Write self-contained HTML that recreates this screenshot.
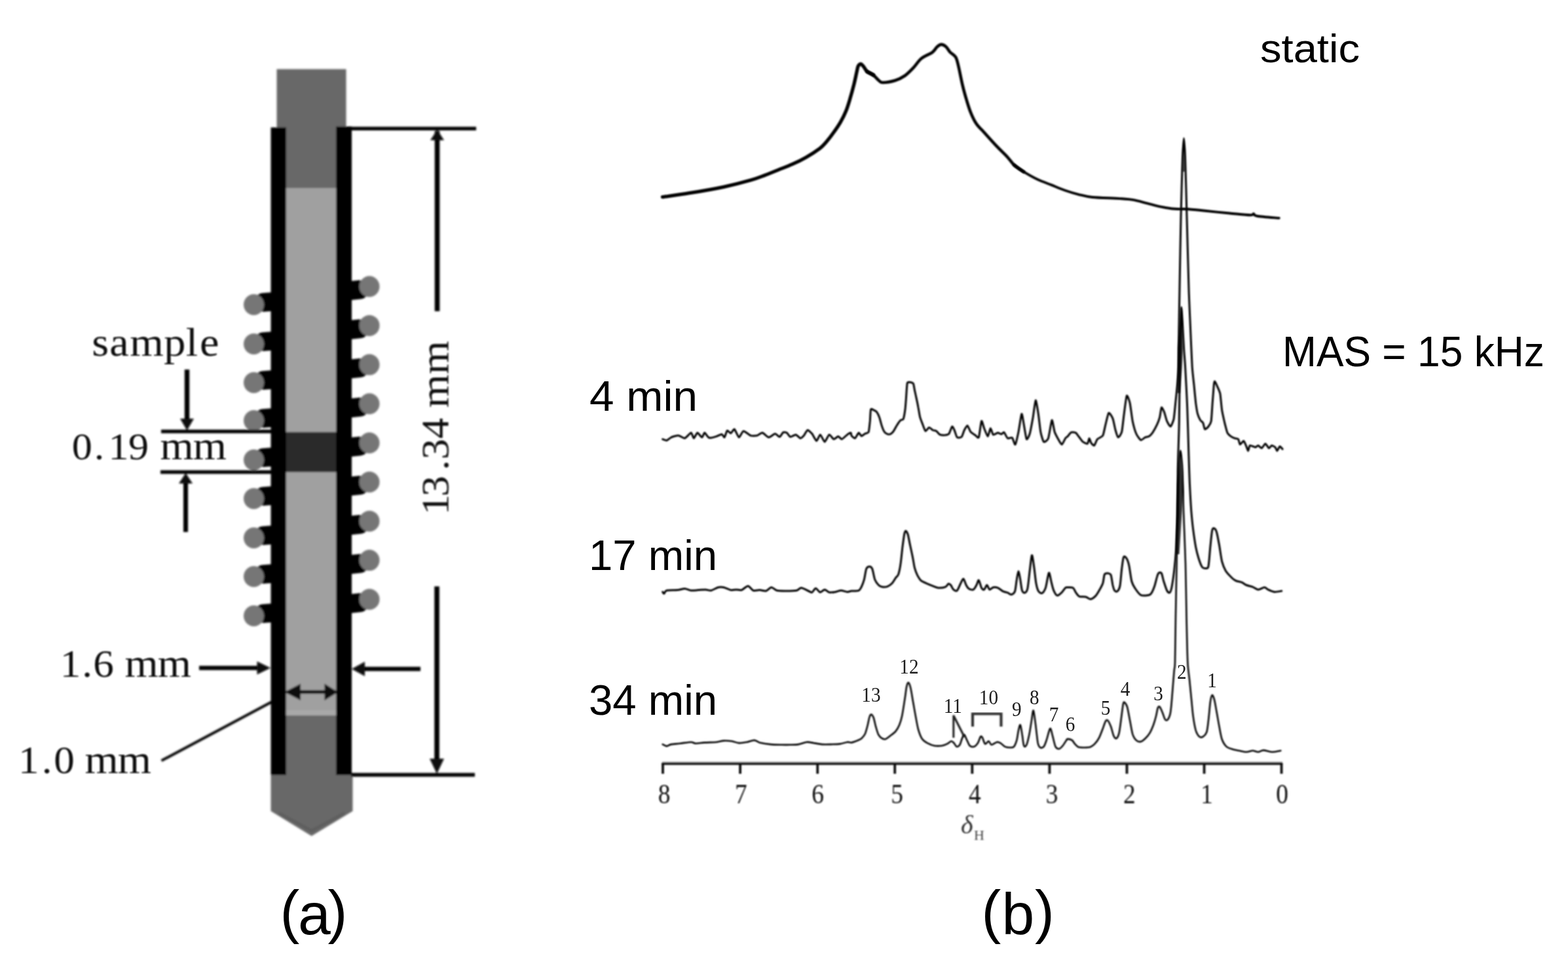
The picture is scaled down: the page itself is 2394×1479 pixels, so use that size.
<!DOCTYPE html>
<html lang="en">
<head>
<meta charset="utf-8">
<title>Figure: micro-coil MAS probe and 1H NMR spectra</title>
<style>
html,body{margin:0;padding:0;background:#fff;}
body{width:2394px;height:1479px;overflow:hidden;}
svg{display:block;}
.sans{font-family:"Liberation Sans",sans-serif;fill:#000;}
.serif{font-family:"Liberation Serif",serif;fill:#000;}
.spec{fill:none;stroke:#000;stroke-linejoin:round;stroke-linecap:round;}
</style>
</head>
<body>
<svg width="2394" height="1479" viewBox="0 0 2394 1479">
<defs>
<filter id="b1" x="-5%" y="-5%" width="110%" height="110%"><feGaussianBlur stdDeviation="1.4"/></filter>
<filter id="b2" x="-5%" y="-5%" width="110%" height="110%"><feGaussianBlur stdDeviation="1.1"/></filter>
<filter id="b3" x="-5%" y="-5%" width="110%" height="110%"><feGaussianBlur stdDeviation="1.0"/></filter>
<filter id="b5" x="-5%" y="-5%" width="110%" height="110%"><feGaussianBlur stdDeviation="0.8"/></filter>
<filter id="b4" x="-5%" y="-5%" width="110%" height="110%"><feGaussianBlur stdDeviation="0.65"/></filter>
</defs>
<rect x="0" y="0" width="2394" height="1479" fill="#fff"/>

<!-- ================= (a) rotor / micro-coil diagram ================= -->
<g id="diagram" filter="url(#b1)">
  <!-- rotor body -->
  <rect x="422.5" y="105.5" width="106" height="182.5" fill="#686868"/>
  <rect x="435" y="287" width="79" height="806" fill="#a0a0a0"/>
  <rect x="435" y="1084" width="79" height="8" fill="#a8a8a8"/>
  <rect x="435" y="659.5" width="79" height="61" fill="#2b2b2b"/>
  <path d="M435,1092 H514 V1183 H538.5 V1238 L475.7,1276 L413.5,1238 V1183 H435 Z" fill="#686868"/>
  <path d="M426,1241 L475.7,1268 L526,1241" fill="none" stroke="#5a5a5a" stroke-width="4" opacity="0.8"/>
  <!-- coil turns -->
  <line x1="402" y1="461.5" x2="422" y2="460.0" stroke="#000" stroke-width="28.5" stroke-linecap="round"/>
<ellipse cx="387.5" cy="465.0" rx="15.5" ry="16" fill="#767676"/>
<line x1="402" y1="521.5" x2="422" y2="520.0" stroke="#000" stroke-width="28.5" stroke-linecap="round"/>
<ellipse cx="387.5" cy="525.0" rx="15.5" ry="16" fill="#767676"/>
<line x1="402" y1="580.5" x2="422" y2="579.0" stroke="#000" stroke-width="28.5" stroke-linecap="round"/>
<ellipse cx="387.5" cy="584.0" rx="15.5" ry="16" fill="#767676"/>
<line x1="402" y1="638.5" x2="422" y2="637.0" stroke="#000" stroke-width="28.5" stroke-linecap="round"/>
<ellipse cx="387.5" cy="642.0" rx="15.5" ry="16" fill="#767676"/>
<line x1="402" y1="698.5" x2="422" y2="697.0" stroke="#000" stroke-width="28.5" stroke-linecap="round"/>
<ellipse cx="387.5" cy="702.0" rx="15.5" ry="16" fill="#767676"/>
<line x1="402" y1="757.5" x2="422" y2="756.0" stroke="#000" stroke-width="28.5" stroke-linecap="round"/>
<ellipse cx="387.5" cy="761.0" rx="15.5" ry="16" fill="#767676"/>
<line x1="402" y1="817.5" x2="422" y2="816.0" stroke="#000" stroke-width="28.5" stroke-linecap="round"/>
<ellipse cx="387.5" cy="821.0" rx="15.5" ry="16" fill="#767676"/>
<line x1="402" y1="876.5" x2="422" y2="875.0" stroke="#000" stroke-width="28.5" stroke-linecap="round"/>
<ellipse cx="387.5" cy="880.0" rx="15.5" ry="16" fill="#767676"/>
<line x1="402" y1="936.5" x2="422" y2="935.0" stroke="#000" stroke-width="28.5" stroke-linecap="round"/>
<ellipse cx="387.5" cy="940.0" rx="15.5" ry="16" fill="#767676"/>
<line x1="549" y1="442.2" x2="530" y2="444.2" stroke="#000" stroke-width="29" stroke-linecap="round"/>
<ellipse cx="564" cy="437.2" rx="15.5" ry="16" fill="#767676"/>
<line x1="549" y1="501.9" x2="530" y2="503.9" stroke="#000" stroke-width="29" stroke-linecap="round"/>
<ellipse cx="564" cy="496.9" rx="15.5" ry="16" fill="#767676"/>
<line x1="549" y1="561.6" x2="530" y2="563.6" stroke="#000" stroke-width="29" stroke-linecap="round"/>
<ellipse cx="564" cy="556.6" rx="15.5" ry="16" fill="#767676"/>
<line x1="549" y1="621.3" x2="530" y2="623.3" stroke="#000" stroke-width="29" stroke-linecap="round"/>
<ellipse cx="564" cy="616.3" rx="15.5" ry="16" fill="#767676"/>
<line x1="549" y1="681.0" x2="530" y2="683.0" stroke="#000" stroke-width="29" stroke-linecap="round"/>
<ellipse cx="564" cy="676.0" rx="15.5" ry="16" fill="#767676"/>
<line x1="549" y1="740.7" x2="530" y2="742.7" stroke="#000" stroke-width="29" stroke-linecap="round"/>
<ellipse cx="564" cy="735.7" rx="15.5" ry="16" fill="#767676"/>
<line x1="549" y1="800.4" x2="530" y2="802.4" stroke="#000" stroke-width="29" stroke-linecap="round"/>
<ellipse cx="564" cy="795.4" rx="15.5" ry="16" fill="#767676"/>
<line x1="549" y1="860.1" x2="530" y2="862.1" stroke="#000" stroke-width="29" stroke-linecap="round"/>
<ellipse cx="564" cy="855.1" rx="15.5" ry="16" fill="#767676"/>
<line x1="549" y1="919.8" x2="530" y2="921.8" stroke="#000" stroke-width="29" stroke-linecap="round"/>
<ellipse cx="564" cy="914.8" rx="15.5" ry="16" fill="#767676"/>
  <!-- sleeve walls -->
  <rect x="413.5" y="194.5" width="23.5" height="988.5" fill="#000"/>
  <rect x="513" y="193" width="24" height="990" fill="#000"/>
  <!-- dimension lines -->
  <g stroke="#060606" stroke-width="5.6" fill="none">
    <line x1="536" y1="196.3" x2="727" y2="196.3"/>
    <line x1="536" y1="1182.6" x2="725" y2="1182.6"/>
    <line x1="667.5" y1="200" x2="667.5" y2="475" stroke-width="7.6"/>
    <line x1="667" y1="895" x2="667" y2="1170" stroke-width="7.6"/>
    <line x1="246" y1="658.5" x2="415" y2="658.5"/>
    <line x1="245" y1="720.5" x2="415" y2="720.5"/>
    <line x1="285.5" y1="564" x2="285.5" y2="645" stroke-width="7.4"/>
    <line x1="283.5" y1="735" x2="283.5" y2="812" stroke-width="7"/>
    <line x1="304" y1="1019.5" x2="398" y2="1019.5" stroke-width="6.4"/>
    <line x1="552" y1="1021" x2="642" y2="1021" stroke-width="6.4"/>
    <line x1="445" y1="1056.3" x2="506" y2="1056.3" stroke-width="5.5"/>
    <line x1="246.5" y1="1161" x2="414.5" y2="1071.5" stroke-width="4"/>
  </g>
  <g fill="#0a0a0a">
    <path d="M667.5,198 L678,214 H657 Z"/>
    <path d="M667,1181 L678,1158 H656 Z"/>
    <path d="M285.5,657 L296,639 H275 Z"/>
    <path d="M283.5,722 L294,738 H273 Z"/>
    <path d="M413,1019.5 L392.5,1009.5 V1029.5 Z"/>
    <path d="M537,1021 L557,1010 V1032 Z"/>
    <path d="M434.5,1056.3 L459,1043.5 V1069 Z"/>
    <path d="M516,1056.3 L495.5,1043.5 V1069 Z"/>
  </g>
</g>

<g class="serif" filter="url(#b5)" style="fill:#0c0c0c" text-anchor="middle">
    <text transform="scale(1.07,1)" y="542.6"><tspan font-size="62" x="143.1 170.0 209.5 249.4 273.9 298.7">sample</tspan></text>
    <text transform="scale(1.07,1)" y="701.5"><tspan font-size="58" x="117.1 141.5 169.2 199.6">0.19</tspan> <tspan font-size="61.5" x="252.5 299.5">mm</tspan></text>
    <text transform="scale(1.07,1)" y="1032.6"><tspan font-size="59" x="100.6 124.4 149.8">1.6</tspan> <tspan font-size="61.5" x="202.0 248.9">mm</tspan></text>
    <text transform="scale(1.07,1)" y="1180"><tspan font-size="59" x="41.0 66.9 93.7">1.0</tspan> <tspan font-size="61.5" x="144.9 191.8">mm</tspan></text>
    <text transform="translate(684.5,0) rotate(-90) scale(1.07,1)" y="0"><tspan font-size="59" x="-719.9 -693.4 -663.5 -640.7 -609.0">13.34</tspan> <tspan font-size="61.5" x="-557.8 -510.0">mm</tspan></text>
</g>

<!-- ================= (b) spectra ================= -->
<g id="spectra">
  <path class="spec" filter="url(#b2)" stroke-width="5.3" d="M1011.5,300.6C1018.1,299.6 1037.5,297.2 1052.4,294.7C1067.3,292.3 1089.7,288.5 1104.8,285.3C1119.9,282.1 1136.7,277.7 1146.8,274.8C1156.8,271.9 1161.0,270.0 1167.7,267.5C1174.4,264.9 1182.0,261.8 1188.7,259.1C1195.4,256.4 1202.9,253.7 1209.6,250.7C1216.4,247.7 1223.9,244.1 1230.6,240.2C1237.3,236.4 1246.5,230.4 1251.6,226.6C1256.6,222.7 1258.7,220.0 1262.1,216.1C1265.4,212.2 1269.2,207.2 1272.5,202.5C1275.9,197.8 1280.0,191.9 1283.0,186.8C1286.0,181.6 1289.1,175.7 1291.4,170.0C1293.8,164.3 1295.7,157.8 1297.7,151.1C1299.7,144.4 1302.3,134.8 1304.0,128.1C1305.7,121.3 1307.2,113.5 1308.2,109.2C1309.2,104.8 1309.3,102.6 1310.3,100.8C1311.3,99.0 1313.1,97.5 1314.5,97.7C1315.8,97.8 1317.1,100.0 1318.7,101.8C1320.2,103.7 1321.6,107.2 1323.9,109.2C1326.2,111.2 1331.8,113.6 1333.3,114.4"/>
  <path class="spec" filter="url(#b2)" stroke-width="4.6" d="M1323.9,109.2C1325.4,110.0 1330.5,112.2 1333.3,114.4C1336.2,116.6 1339.4,121.0 1341.7,122.8C1344.1,124.7 1344.0,126.0 1348.0,126.0C1352.0,126.0 1361.5,124.5 1366.9,122.8C1372.2,121.1 1377.2,118.5 1381.6,115.5C1385.9,112.5 1390.1,108.1 1394.1,103.9C1398.2,99.7 1402.0,93.1 1406.7,89.3C1411.4,85.4 1419.6,82.7 1423.5,79.8C1427.3,77.0 1428.6,73.4 1430.8,71.4C1433.0,69.5 1434.9,67.9 1437.1,67.9C1439.3,67.9 1442.3,69.5 1444.4,71.4C1446.6,73.4 1448.4,77.3 1450.7,79.8C1453.1,82.3 1457.1,83.8 1459.1,87.2C1461.1,90.5 1461.6,93.9 1463.3,100.8C1465.0,107.7 1467.6,121.8 1469.6,130.1C1471.6,138.5 1473.9,146.5 1475.9,153.2C1477.9,159.9 1479.8,166.4 1482.2,172.1C1484.5,177.8 1487.7,184.5 1490.6,188.8C1493.4,193.2 1495.1,194.0 1500.0,199.3C1504.9,204.7 1514.9,216.0 1521.0,222.4C1527.0,228.8 1533.4,234.5 1537.7,239.2C1542.1,243.9 1544.2,248.1 1548.2,251.7C1552.2,255.4 1560.5,260.5 1562.9,262.2"/>
  <path class="spec" filter="url(#b2)" stroke-width="3.9" d="M1548.2,251.7C1550.6,253.4 1557.2,258.7 1562.9,262.2C1568.6,265.7 1577.1,270.6 1583.9,273.8C1590.6,276.9 1598.1,279.5 1604.8,282.1C1611.5,284.8 1619.1,288.2 1625.8,290.5C1632.5,292.9 1640.0,295.1 1646.8,296.8C1653.5,298.5 1657.7,300.0 1667.7,301.0C1677.8,302.0 1699.6,302.4 1709.6,303.1C1719.7,303.8 1723.9,304.0 1730.6,305.2C1737.3,306.4 1744.9,308.8 1751.6,310.4C1758.3,312.1 1765.8,314.3 1772.5,315.7C1779.2,317.0 1786.8,318.3 1793.5,318.8C1800.2,319.4 1807.8,318.8 1814.5,319.2C1821.2,319.6 1825.4,320.3 1835.4,321.3C1845.5,322.3 1865.6,324.4 1877.4,325.5C1889.1,326.6 1902.9,328.2 1908.8,328.3C1914.7,328.4 1912.4,325.9 1914.0,326.2C1915.7,326.4 1913.1,328.7 1919.3,329.7C1925.5,330.8 1947.5,332.4 1952.8,332.9"/>
  <path class="spec" filter="url(#b3)" stroke-width="3.0" d="M1011.7,670.3C1012.3,670.5 1016.6,672.6 1017.9,672.3C1019.2,672.1 1023.0,668.3 1024.8,667.5C1026.6,666.8 1033.8,664.6 1035.8,664.8C1037.9,664.9 1043.6,669.3 1045.5,668.9C1047.4,668.5 1053.8,660.6 1055.1,660.6C1056.5,660.6 1058.3,668.9 1059.3,668.9C1060.2,668.9 1063.5,660.8 1064.8,660.6C1066.0,660.5 1070.6,667.5 1071.7,667.5C1072.8,667.5 1074.7,660.6 1075.8,660.6C1076.9,660.7 1080.9,667.7 1082.7,668.2C1084.5,668.8 1091.8,666.7 1093.7,666.1C1095.7,665.6 1100.8,662.6 1102.0,662.7C1103.2,662.8 1105.3,668.1 1106.1,667.5C1107.0,667.0 1109.3,657.8 1110.3,657.2C1111.2,656.6 1114.7,661.5 1115.8,661.3C1116.9,661.1 1120.1,654.5 1121.3,655.1C1122.5,655.7 1126.8,667.2 1128.2,667.5C1129.6,667.8 1133.3,658.1 1135.1,657.9C1136.9,657.6 1144.0,664.1 1146.1,664.8C1148.2,665.5 1154.0,665.2 1155.8,664.8C1157.6,664.3 1162.2,660.4 1164.0,660.6C1165.8,660.9 1171.8,667.4 1173.7,667.5C1175.6,667.7 1181.7,662.1 1183.3,662.0C1185.0,661.9 1189.0,667.0 1190.2,666.8C1191.5,666.6 1194.6,660.6 1195.7,659.9C1196.8,659.3 1200.2,659.9 1201.3,660.6C1202.4,661.3 1205.4,666.6 1206.8,666.8C1208.1,667.1 1213.5,663.2 1215.0,663.4C1216.6,663.6 1220.7,668.8 1221.9,668.9C1223.2,669.0 1226.3,666.0 1227.4,664.8C1228.5,663.5 1231.7,656.8 1233.0,656.5C1234.2,656.2 1238.5,660.4 1239.8,662.0C1241.2,663.7 1245.5,672.9 1246.7,673.0C1248.0,673.2 1251.0,663.2 1252.3,663.4C1253.5,663.5 1257.8,674.4 1259.1,674.4C1260.5,674.4 1264.7,663.8 1266.0,663.4C1267.4,663.0 1271.6,670.0 1272.9,670.3C1274.3,670.6 1278.6,666.1 1279.8,666.1C1281.1,666.1 1284.0,670.6 1285.3,670.3C1286.7,670.0 1292.2,664.3 1293.6,663.4C1295.0,662.4 1298.5,660.5 1299.1,660.6C1299.8,660.8 1299.4,663.9 1300.0,664.8C1300.6,665.6 1304.4,669.3 1305.5,668.9C1306.6,668.5 1310.1,661.0 1311.0,660.6C1312.0,660.3 1314.2,665.3 1315.2,665.5C1316.1,665.6 1319.6,662.6 1320.7,662.0C1321.8,661.4 1325.4,661.2 1326.2,659.2C1326.9,657.3 1327.9,646.2 1328.3,642.7C1328.6,639.3 1329.0,626.4 1329.6,624.8C1330.3,623.1 1333.6,625.8 1334.5,626.2C1335.4,626.6 1337.8,627.8 1338.6,628.9C1339.4,630.0 1342.0,635.1 1342.7,637.2C1343.5,639.3 1345.4,647.4 1346.2,649.6C1346.9,651.8 1349.4,657.9 1350.3,659.2C1351.2,660.6 1354.2,662.3 1355.1,662.7C1356.0,663.0 1358.4,663.0 1359.3,662.7C1360.1,662.3 1362.6,660.3 1363.4,659.2C1364.2,658.2 1366.7,653.7 1367.5,652.4C1368.4,651.0 1370.9,646.6 1371.7,645.5C1372.4,644.4 1374.4,641.9 1375.1,641.3C1375.9,640.7 1378.6,640.9 1379.3,639.3C1379.9,637.6 1381.6,627.9 1382.0,624.8C1382.4,621.7 1383.1,612.2 1383.4,608.2C1383.7,604.2 1384.6,587.3 1385.2,584.8C1385.8,582.3 1388.7,583.4 1389.6,583.4C1390.5,583.5 1393.7,584.3 1394.4,585.5C1395.1,586.7 1396.0,593.6 1396.5,595.8C1397.0,598.1 1398.7,605.6 1399.2,608.2C1399.8,610.9 1401.5,619.1 1402.0,622.0C1402.6,624.9 1404.1,634.6 1404.8,637.2C1405.5,639.8 1408.1,646.2 1408.9,648.2C1409.7,650.3 1412.1,657.5 1413.0,657.9C1414.0,658.3 1417.4,652.5 1418.5,652.4C1419.6,652.2 1423.0,655.9 1424.1,656.5C1425.2,657.0 1428.5,657.2 1429.6,657.9C1430.7,658.6 1433.7,662.8 1435.1,663.4C1436.5,664.0 1442.0,664.2 1443.4,664.1C1444.7,663.9 1447.8,663.3 1448.9,662.0C1449.9,660.7 1452.9,651.5 1453.7,651.0C1454.5,650.4 1456.4,654.8 1457.1,656.5C1457.9,658.1 1460.2,666.5 1461.3,667.5C1462.4,668.6 1467.1,667.9 1468.2,666.8C1469.3,665.7 1471.4,658.2 1472.3,656.5C1473.2,654.8 1476.2,649.3 1477.1,649.6C1478.1,649.9 1480.8,657.8 1482.0,659.2C1483.1,660.7 1487.6,663.2 1488.8,664.1C1490.1,664.9 1493.4,669.7 1494.4,667.5C1495.3,665.4 1497.7,644.1 1498.5,642.7C1499.3,641.3 1501.7,651.4 1502.6,653.7C1503.6,656.1 1507.2,666.1 1508.1,666.1C1509.1,666.1 1511.5,654.0 1512.3,653.7C1513.1,653.5 1515.3,662.7 1516.4,663.4C1517.5,664.1 1522.1,660.7 1523.3,660.6C1524.5,660.6 1527.9,662.8 1528.8,662.7C1529.8,662.6 1532.0,659.3 1533.0,659.9C1533.9,660.6 1537.2,668.1 1538.5,668.9C1539.7,669.7 1544.2,667.2 1545.4,668.2C1546.5,669.2 1549.2,679.4 1550.2,678.5C1551.2,677.7 1554.0,663.9 1555.0,659.2C1556.0,654.6 1559.0,632.8 1559.8,631.7C1560.7,630.6 1562.5,644.4 1563.3,648.2C1564.0,652.1 1566.5,668.9 1567.4,670.3C1568.3,671.7 1571.3,665.3 1572.2,662.0C1573.2,658.7 1576.2,642.3 1577.1,637.2C1578.0,632.1 1580.4,611.6 1581.2,611.0C1582.0,610.5 1584.6,626.9 1585.3,631.7C1586.1,636.5 1588.0,655.0 1588.8,659.2C1589.6,663.5 1592.4,673.4 1593.6,674.4C1594.8,675.4 1599.3,672.2 1600.5,668.9C1601.7,665.6 1605.1,642.3 1606.0,641.3C1607.0,640.4 1609.2,656.4 1610.2,659.2C1611.1,662.1 1614.6,668.3 1615.7,670.3C1616.8,672.2 1620.1,678.7 1621.2,678.5C1622.3,678.4 1625.8,670.1 1626.7,668.9C1627.6,667.7 1629.1,667.0 1630.0,666.1C1630.9,665.2 1634.3,660.5 1635.5,659.9C1636.8,659.4 1641.2,659.9 1642.4,660.6C1643.6,661.4 1646.8,666.1 1647.9,667.5C1649.0,668.9 1652.2,673.4 1653.4,674.4C1654.7,675.4 1659.4,677.7 1660.3,677.2C1661.3,676.6 1662.5,669.0 1663.1,668.9C1663.6,668.8 1665.1,674.7 1665.8,675.8C1666.6,676.9 1669.7,680.5 1670.7,679.9C1671.6,679.4 1674.2,671.8 1675.5,670.3C1676.8,668.8 1682.5,667.0 1683.8,664.8C1685.0,662.6 1687.0,651.7 1687.9,648.2C1688.8,644.8 1691.6,631.3 1692.7,630.3C1693.8,629.3 1697.9,636.0 1698.9,638.6C1700.0,641.2 1702.2,653.6 1703.1,656.5C1703.9,659.4 1706.2,667.2 1707.2,667.5C1708.2,667.8 1711.8,662.8 1712.7,659.2C1713.6,655.7 1715.4,637.2 1716.2,631.7C1716.9,626.2 1719.4,605.8 1720.3,604.1C1721.2,602.5 1724.2,611.3 1725.1,615.1C1726.0,619.0 1728.3,638.0 1729.2,642.7C1730.2,647.4 1733.5,659.1 1734.8,662.0C1736.0,664.9 1740.3,671.1 1741.7,671.7C1743.0,672.2 1747.3,668.1 1748.5,667.5C1749.8,667.0 1753.0,666.8 1754.1,666.1C1755.2,665.5 1758.3,662.4 1759.6,660.6C1760.8,658.8 1765.4,650.6 1766.5,648.2C1767.6,645.9 1769.9,639.8 1770.6,637.2C1771.3,634.6 1772.7,622.9 1773.4,622.0C1774.0,621.2 1776.7,626.9 1777.5,628.9C1778.3,631.0 1780.7,640.5 1781.6,642.7C1782.6,644.9 1786.1,651.3 1787.1,651.0C1788.2,650.7 1791.2,643.5 1792.0,639.9C1792.7,636.4 1794.2,620.4 1794.7,615.1C1795.3,609.9 1797.0,593.1 1797.5,587.6C1798.0,582.1 1799.3,568.7 1799.5,560.0C1799.8,551.3 1799.9,513.0 1800.0,501.0C1800.1,489.0 1800.7,457.1 1801.0,440.0C1801.3,422.9 1802.5,350.0 1803.0,330.0C1803.5,310.0 1805.0,251.9 1805.5,240.0C1806.0,228.1 1807.1,211.0 1807.5,211.0C1807.9,211.0 1809.0,228.1 1809.5,240.0C1810.0,251.9 1811.5,310.0 1812.0,330.0C1812.5,350.0 1814.5,422.9 1815.0,440.0C1815.5,457.1 1817.0,489.0 1817.5,501.0C1818.0,513.0 1819.7,551.3 1820.2,560.0C1820.8,568.7 1822.4,582.1 1823.0,587.6C1823.5,593.1 1825.2,610.7 1825.7,615.1C1826.3,619.5 1827.8,629.1 1828.5,631.7C1829.2,634.3 1831.8,639.9 1832.6,641.3C1833.5,642.7 1836.1,644.1 1836.8,645.5C1837.5,646.8 1838.7,654.6 1839.5,655.1C1840.4,655.7 1844.1,652.2 1845.0,651.0C1846.0,649.7 1848.6,646.3 1849.2,642.7C1849.8,639.1 1850.8,620.7 1851.2,615.1C1851.7,609.6 1853.0,590.9 1853.3,587.6C1853.7,584.3 1854.1,581.8 1854.7,582.1C1855.2,582.3 1858.0,588.4 1858.8,590.3C1859.6,592.3 1862.3,597.8 1863.0,601.4C1863.6,604.9 1865.0,621.8 1865.7,626.2C1866.4,630.6 1869.0,642.0 1869.8,645.5C1870.7,648.9 1873.0,658.6 1874.0,660.6C1874.9,662.7 1878.4,665.3 1879.5,666.1C1880.6,667.0 1883.9,668.5 1885.0,668.9C1886.1,669.3 1889.7,669.3 1890.5,670.3C1891.4,671.2 1892.5,678.3 1893.3,678.5C1894.1,678.8 1897.8,672.8 1898.8,673.0C1899.8,673.3 1902.2,679.8 1902.9,681.3C1903.6,682.8 1905.1,688.3 1905.7,688.2C1906.2,688.1 1907.3,680.5 1908.4,679.9C1909.5,679.4 1915.5,682.7 1916.7,682.7C1918.0,682.7 1919.9,679.8 1920.9,679.9C1921.8,680.1 1925.3,684.3 1926.4,684.1C1927.5,683.8 1930.8,677.2 1931.9,677.2C1933.0,677.2 1936.4,683.8 1937.4,684.1C1938.4,684.3 1940.6,680.1 1941.5,679.9C1942.5,679.8 1946.2,681.9 1947.0,682.7C1947.9,683.5 1949.1,688.3 1949.8,688.2C1950.5,688.1 1953.1,681.6 1953.9,681.3C1954.8,681.0 1957.7,685.0 1958.1,685.4"/>
  <path class="spec" filter="url(#b3)" stroke-width="3.0" d="M1011.7,903.4C1012.0,903.8 1012.9,906.4 1013.8,906.1C1014.7,905.8 1015.0,902.1 1017.9,901.3C1020.8,900.5 1030.6,901.0 1034.5,900.6C1038.3,900.2 1042.6,898.4 1045.5,898.5C1048.4,898.6 1052.2,901.0 1055.1,901.3C1058.0,901.6 1063.1,900.8 1066.2,900.6C1069.3,900.4 1074.5,899.8 1077.2,899.9C1079.9,900.0 1082.8,901.8 1085.5,901.3C1088.2,900.8 1093.8,897.2 1096.5,896.5C1099.2,895.8 1102.1,895.9 1104.8,896.5C1107.5,897.1 1113.1,900.1 1115.8,900.6C1118.5,901.1 1121.7,899.9 1124.1,899.9C1126.4,899.9 1129.8,901.4 1132.3,900.6C1134.8,899.8 1139.5,894.3 1142.0,894.4C1144.5,894.5 1147.7,900.4 1150.3,901.3C1152.8,902.2 1157.2,900.5 1159.9,900.6C1162.6,900.7 1167.0,902.6 1169.5,902.0C1172.1,901.4 1175.5,896.6 1177.8,896.5C1180.1,896.4 1183.0,900.5 1186.1,901.3C1189.2,902.1 1195.6,902.0 1199.9,902.0C1204.1,902.0 1213.1,902.0 1216.4,901.3C1219.7,900.6 1220.8,897.1 1223.3,897.2C1225.8,897.3 1232.0,901.0 1234.3,902.0C1236.7,903.0 1238.3,904.6 1239.8,904.1C1241.4,903.5 1243.6,897.9 1245.4,897.9C1247.1,897.9 1250.3,903.8 1252.3,904.1C1254.2,904.3 1257.2,899.9 1259.1,899.9C1261.1,899.9 1263.7,903.6 1266.0,904.1C1268.4,904.5 1273.2,903.8 1275.7,903.4C1278.2,903.0 1281.5,901.3 1284.0,901.3C1286.5,901.3 1291.4,903.3 1293.6,903.4C1295.9,903.5 1297.6,902.3 1300.0,902.0C1302.4,901.7 1308.9,902.2 1311.0,901.3C1313.2,900.4 1314.0,898.1 1315.2,895.8C1316.3,893.5 1318.2,888.6 1319.3,884.8C1320.4,880.9 1321.6,871.0 1322.7,868.2C1323.9,865.4 1326.3,864.8 1327.6,864.8C1328.8,864.8 1330.5,865.4 1331.7,868.2C1332.9,871.0 1334.5,881.3 1335.8,884.8C1337.2,888.2 1339.8,891.5 1341.4,893.0C1342.9,894.6 1344.9,895.5 1346.9,895.8C1348.8,896.1 1353.0,895.9 1355.1,895.1C1357.3,894.3 1360.3,892.1 1362.0,890.3C1363.8,888.4 1366.2,883.9 1367.5,882.0C1368.9,880.1 1370.6,879.6 1371.7,876.5C1372.7,873.4 1374.3,865.7 1375.1,859.9C1376.0,854.2 1377.1,841.3 1377.9,835.1C1378.7,829.0 1380.0,819.3 1380.6,815.8C1381.3,812.4 1381.9,810.3 1382.7,810.3C1383.5,810.3 1385.2,812.8 1386.2,815.8C1387.1,818.9 1388.5,827.4 1389.6,832.4C1390.7,837.4 1392.8,846.9 1393.7,851.7C1394.7,856.5 1395.5,863.2 1396.5,866.8C1397.5,870.5 1399.3,875.2 1400.6,877.9C1402.0,880.6 1404.2,884.4 1406.1,886.1C1408.1,887.9 1411.9,889.1 1414.4,890.3C1416.9,891.4 1421.6,893.4 1424.1,894.4C1426.6,895.4 1429.6,897.0 1432.3,897.2C1435.0,897.4 1441.1,896.7 1443.4,895.8C1445.6,894.9 1447.0,891.4 1448.2,891.0C1449.3,890.6 1450.6,891.8 1451.6,893.0C1452.7,894.3 1454.4,898.8 1455.8,899.9C1457.1,901.1 1459.7,902.7 1461.3,901.3C1462.8,900.0 1465.4,892.8 1466.8,890.3C1468.1,887.8 1469.8,883.0 1470.9,883.4C1472.1,883.8 1473.9,890.9 1475.1,893.0C1476.2,895.2 1477.7,897.6 1479.2,898.5C1480.7,899.5 1484.4,900.7 1486.1,899.9C1487.7,899.2 1489.8,895.1 1490.9,893.0C1492.1,891.0 1493.3,884.9 1494.4,885.5C1495.4,886.0 1497.3,895.1 1498.5,897.2C1499.7,899.2 1501.5,900.5 1502.6,899.9C1503.8,899.3 1505.6,893.0 1506.8,893.0C1507.9,893.0 1509.6,899.4 1510.9,899.9C1512.3,900.4 1514.7,896.9 1516.4,896.5C1518.2,896.1 1521.2,896.3 1523.3,897.2C1525.4,898.0 1529.5,901.6 1531.6,902.7C1533.7,903.7 1536.7,904.1 1538.5,904.7C1540.2,905.4 1542.4,907.8 1544.0,907.5C1545.5,907.2 1548.3,905.9 1549.5,902.7C1550.7,899.5 1551.5,889.1 1552.3,884.8C1553.0,880.4 1554.2,871.7 1555.0,871.7C1555.8,871.7 1557.0,880.6 1557.8,884.8C1558.5,888.9 1559.6,898.5 1560.5,901.3C1561.5,904.1 1563.5,905.1 1564.7,904.7C1565.8,904.4 1567.7,903.3 1568.8,898.5C1569.9,893.8 1571.3,878.1 1572.2,871.0C1573.2,863.8 1574.5,848.7 1575.4,847.5C1576.3,846.4 1577.5,856.7 1578.4,862.7C1579.4,868.7 1580.9,884.8 1581.9,890.3C1582.9,895.8 1584.1,899.9 1585.3,902.0C1586.6,904.1 1589.3,906.1 1590.9,905.4C1592.4,904.8 1595.1,900.6 1596.4,897.2C1597.6,893.7 1599.0,883.8 1599.8,880.6C1600.6,877.4 1601.1,873.3 1601.9,874.4C1602.7,875.6 1604.4,885.1 1605.3,888.9C1606.3,892.7 1607.5,898.5 1608.8,901.3C1610.0,904.1 1612.5,908.5 1614.3,908.9C1616.0,909.3 1619.4,905.7 1621.2,904.1C1622.9,902.4 1625.5,898.2 1626.7,897.2C1627.9,896.1 1628.4,896.5 1630.0,896.5C1631.6,896.5 1636.5,896.1 1638.3,897.2C1640.0,898.2 1641.1,902.2 1642.4,904.1C1643.8,905.9 1645.8,909.3 1647.9,910.3C1650.0,911.2 1655.2,910.4 1657.6,911.0C1660.0,911.5 1663.0,914.6 1665.2,914.4C1667.3,914.2 1670.9,911.4 1672.7,909.6C1674.6,907.7 1676.7,904.0 1678.2,901.3C1679.8,898.6 1682.6,893.7 1683.8,890.3C1684.9,886.8 1685.4,878.6 1686.5,876.5C1687.7,874.4 1690.7,874.9 1692.0,875.1C1693.4,875.3 1695.2,875.4 1696.2,877.9C1697.1,880.4 1698.2,889.8 1698.9,893.0C1699.7,896.3 1700.7,900.0 1701.7,901.3C1702.6,902.7 1704.7,903.6 1705.8,902.7C1707.0,901.7 1709.0,899.2 1709.9,894.4C1710.9,889.6 1711.9,874.4 1712.7,868.2C1713.5,862.0 1714.5,852.6 1715.5,850.3C1716.4,848.0 1718.4,849.9 1719.6,851.7C1720.8,853.4 1722.6,857.7 1723.7,862.7C1724.9,867.7 1726.5,882.5 1727.9,887.5C1729.2,892.5 1731.5,895.7 1733.4,898.5C1735.3,901.4 1739.3,906.7 1741.7,908.2C1744.0,909.6 1747.8,909.1 1749.9,908.9C1752.0,908.7 1755.1,908.7 1756.8,906.8C1758.6,905.0 1761.0,899.5 1762.3,895.8C1763.7,892.1 1765.5,883.6 1766.5,880.6C1767.4,877.6 1768.3,875.2 1769.2,874.4C1770.2,873.7 1772.3,873.3 1773.4,875.1C1774.4,876.9 1775.6,883.9 1776.8,887.5C1778.0,891.2 1780.4,898.9 1781.6,901.3C1782.9,903.7 1784.8,905.1 1785.8,904.7C1786.7,904.4 1787.7,901.7 1788.5,898.5C1789.3,895.4 1790.6,886.6 1791.3,882.0C1792.0,877.4 1792.8,871.1 1793.3,865.5C1793.9,859.9 1794.9,849.2 1795.4,842.0C1795.9,834.9 1796.4,821.2 1796.8,814.5C1797.1,807.7 1797.7,798.6 1797.9,793.8C1798.1,789.0 1798.4,790.3 1798.4,780.0C1798.5,769.7 1798.2,734.0 1798.3,720.0C1798.4,706.0 1799.0,690.8 1799.3,680.0C1799.6,669.2 1800.1,656.7 1800.3,643.0C1800.5,629.3 1800.8,597.7 1801.0,582.0C1801.2,566.3 1801.4,543.9 1801.6,531.0C1801.8,518.1 1802.3,498.7 1802.6,490.0C1802.9,481.3 1803.2,469.0 1803.6,469.0C1804.0,469.0 1804.7,481.3 1805.2,490.0C1805.7,498.7 1806.9,520.9 1807.5,531.0C1808.1,541.1 1809.0,549.3 1809.7,562.0C1810.4,574.7 1812.0,604.1 1812.7,622.0C1813.4,639.9 1814.3,673.5 1814.8,690.0C1815.3,706.5 1815.9,727.4 1816.5,740.0C1817.1,752.6 1818.1,770.5 1818.8,780.0C1819.6,789.5 1820.6,799.8 1821.6,807.6C1822.6,815.3 1824.6,829.0 1825.7,835.1C1826.9,841.3 1828.5,847.4 1829.9,851.7C1831.2,855.9 1833.8,863.2 1835.4,865.5C1836.9,867.7 1839.6,867.7 1840.9,867.5C1842.3,867.3 1844.1,868.6 1845.0,864.1C1846.0,859.6 1847.0,842.7 1847.8,835.1C1848.6,827.6 1849.8,814.4 1850.6,810.3C1851.3,806.3 1852.3,806.0 1853.3,806.2C1854.3,806.4 1856.3,808.0 1857.4,811.7C1858.6,815.4 1860.4,826.0 1861.6,832.4C1862.7,838.7 1864.4,851.8 1865.7,857.2C1867.1,862.6 1869.5,867.9 1871.2,871.0C1873.0,874.1 1876.0,877.1 1878.1,879.2C1880.2,881.4 1883.9,884.8 1886.4,886.1C1888.9,887.5 1893.7,887.9 1896.0,888.9C1898.4,889.9 1900.6,892.1 1902.9,893.0C1905.2,894.0 1910.1,894.8 1912.6,895.8C1915.1,896.8 1918.3,899.8 1920.9,899.9C1923.4,900.0 1928.4,896.5 1930.5,896.5C1932.6,896.5 1933.9,899.0 1936.0,899.9C1938.1,900.9 1942.8,903.1 1945.7,903.4C1948.6,903.7 1955.1,902.2 1956.7,902.0"/>
  <path class="spec" filter="url(#b3)" stroke-width="2.6" d="M1011.7,1136.1C1012.6,1136.5 1016.0,1138.9 1017.9,1138.9C1019.9,1138.9 1021.7,1136.7 1024.8,1136.1C1027.9,1135.5 1034.0,1135.3 1038.6,1134.7C1043.1,1134.2 1051.6,1132.7 1055.1,1132.7C1058.7,1132.7 1058.9,1134.6 1062.0,1134.7C1065.1,1134.9 1071.1,1133.7 1075.8,1133.4C1080.6,1133.1 1089.4,1133.1 1093.7,1132.7C1098.1,1132.3 1101.2,1130.8 1104.8,1130.6C1108.3,1130.4 1113.7,1130.8 1117.2,1131.3C1120.7,1131.8 1124.7,1133.9 1128.2,1134.1C1131.7,1134.3 1137.1,1133.3 1140.6,1132.7C1144.1,1132.1 1148.7,1129.8 1151.6,1129.9C1154.5,1130.0 1156.2,1132.4 1159.9,1133.4C1163.6,1134.3 1171.5,1135.6 1176.4,1136.1C1181.4,1136.6 1188.4,1136.7 1193.0,1136.8C1197.5,1136.9 1202.8,1136.9 1206.8,1136.8C1210.7,1136.7 1215.5,1136.7 1219.2,1136.1C1222.9,1135.5 1228.1,1133.0 1231.6,1132.7C1235.1,1132.4 1239.1,1133.5 1242.6,1134.1C1246.1,1134.6 1251.1,1135.8 1255.0,1136.1C1258.9,1136.4 1264.7,1136.2 1268.8,1136.1C1272.9,1136.0 1278.9,1136.0 1282.6,1135.4C1286.3,1134.9 1291.0,1133.0 1293.6,1132.7C1296.2,1132.4 1297.8,1133.7 1300.0,1133.4C1302.2,1133.1 1306.0,1131.5 1308.3,1130.6C1310.5,1129.7 1313.3,1128.7 1315.2,1127.2C1317.0,1125.6 1319.2,1123.4 1320.7,1120.3C1322.1,1117.2 1323.8,1110.4 1324.8,1106.5C1325.8,1102.6 1326.7,1096.5 1327.6,1094.1C1328.4,1091.7 1329.4,1090.4 1330.3,1090.6C1331.3,1090.8 1332.7,1092.7 1333.8,1095.5C1334.8,1098.3 1336.1,1105.3 1337.2,1109.2C1338.4,1113.2 1339.9,1119.0 1341.4,1121.7C1342.8,1124.3 1345.2,1126.2 1346.9,1127.2C1348.5,1128.1 1350.5,1128.5 1352.4,1127.9C1354.2,1127.2 1357.0,1124.8 1359.3,1123.0C1361.5,1121.3 1365.5,1118.6 1367.5,1116.1C1369.6,1113.7 1371.6,1110.0 1373.1,1106.5C1374.5,1103.0 1376.0,1098.5 1377.2,1092.7C1378.4,1086.9 1380.3,1074.5 1381.3,1067.9C1382.4,1061.3 1383.3,1052.5 1384.1,1048.6C1384.9,1044.7 1385.9,1041.5 1386.8,1041.7C1387.8,1041.9 1389.3,1045.8 1390.3,1050.0C1391.3,1054.1 1392.6,1062.9 1393.7,1069.3C1394.9,1075.7 1396.6,1086.1 1397.9,1092.7C1399.1,1099.3 1400.6,1108.2 1402.0,1113.4C1403.5,1118.6 1405.5,1124.1 1407.5,1127.2C1409.6,1130.3 1412.9,1132.4 1415.8,1134.1C1418.7,1135.7 1423.5,1137.6 1426.8,1138.2C1430.1,1138.8 1434.9,1138.6 1437.8,1138.2C1440.7,1137.8 1443.9,1136.5 1446.1,1135.4C1448.3,1134.4 1450.8,1131.5 1452.3,1131.3C1453.9,1131.1 1455.2,1132.8 1456.5,1134.1C1457.7,1135.3 1459.2,1139.2 1460.6,1139.6C1461.9,1140.0 1464.2,1138.7 1465.4,1136.8C1466.7,1135.0 1467.8,1129.4 1468.9,1127.2C1469.9,1124.9 1471.2,1121.2 1472.3,1121.7C1473.4,1122.1 1475.2,1127.4 1476.4,1129.9C1477.7,1132.4 1478.9,1136.7 1480.6,1138.2C1482.2,1139.6 1485.6,1140.2 1487.5,1139.6C1489.3,1139.0 1491.5,1136.3 1493.0,1134.1C1494.4,1131.8 1496.1,1125.7 1497.1,1124.4C1498.2,1123.2 1498.8,1124.1 1499.9,1125.8C1500.9,1127.4 1502.6,1134.6 1504.0,1135.4C1505.5,1136.3 1508.1,1131.1 1509.5,1131.3C1511.0,1131.5 1511.8,1136.6 1513.7,1136.8C1515.5,1137.0 1519.9,1133.1 1521.9,1132.7C1524.0,1132.3 1525.6,1133.0 1527.4,1134.1C1529.3,1135.1 1532.1,1138.5 1534.3,1139.6C1536.6,1140.6 1540.5,1141.0 1542.6,1141.0C1544.7,1141.0 1546.7,1141.2 1548.1,1139.6C1549.6,1137.9 1551.2,1133.6 1552.3,1129.9C1553.3,1126.2 1554.2,1118.3 1555.0,1114.8C1555.8,1111.2 1556.9,1105.7 1557.8,1106.5C1558.6,1107.3 1559.7,1115.5 1560.5,1120.3C1561.4,1125.0 1562.2,1135.7 1563.3,1138.2C1564.3,1140.7 1566.2,1139.5 1567.4,1136.8C1568.7,1134.1 1570.4,1125.9 1571.6,1120.3C1572.7,1114.7 1574.1,1105.0 1575.0,1099.6C1575.9,1094.2 1576.8,1083.4 1577.8,1084.4C1578.7,1085.5 1580.2,1099.0 1581.2,1106.5C1582.2,1113.9 1583.6,1128.9 1584.6,1134.1C1585.7,1139.2 1586.8,1140.1 1588.1,1141.0C1589.4,1141.8 1592.2,1141.2 1593.6,1139.6C1595.1,1137.9 1596.6,1133.2 1597.7,1129.9C1598.9,1126.6 1600.3,1120.2 1601.2,1117.5C1602.1,1114.8 1603.0,1111.0 1603.9,1112.0C1604.9,1113.0 1606.3,1120.3 1607.4,1124.4C1608.5,1128.5 1610.1,1136.8 1611.5,1139.6C1613.0,1142.4 1615.4,1143.2 1617.0,1143.0C1618.7,1142.8 1620.9,1140.2 1622.6,1138.2C1624.2,1136.2 1627.0,1131.5 1628.1,1129.9C1629.2,1128.4 1628.7,1127.9 1630.0,1127.9C1631.3,1127.9 1635.2,1128.8 1636.9,1129.9C1638.5,1131.1 1639.6,1133.9 1641.0,1135.4C1642.5,1137.0 1644.5,1139.4 1646.5,1140.3C1648.6,1141.1 1652.1,1141.0 1654.8,1141.0C1657.5,1141.0 1662.0,1141.1 1664.5,1140.3C1666.9,1139.4 1669.3,1137.6 1671.4,1135.4C1673.4,1133.3 1676.4,1129.3 1678.2,1125.8C1680.1,1122.3 1682.3,1115.7 1683.8,1112.0C1685.2,1108.3 1686.8,1102.8 1687.9,1101.0C1689.0,1099.1 1690.1,1098.4 1691.3,1099.6C1692.6,1100.8 1694.8,1105.7 1696.2,1109.2C1697.5,1112.8 1699.1,1120.3 1700.3,1123.0C1701.5,1125.7 1703.2,1127.8 1704.4,1127.2C1705.7,1126.5 1707.4,1123.7 1708.6,1118.9C1709.7,1114.1 1711.1,1102.1 1712.0,1095.5C1712.9,1088.8 1714.1,1078.3 1714.8,1074.8C1715.5,1071.3 1715.9,1071.4 1716.8,1072.0C1717.8,1072.7 1719.7,1074.8 1721.0,1078.9C1722.2,1083.1 1723.9,1093.4 1725.1,1099.6C1726.4,1105.8 1727.8,1115.7 1729.2,1120.3C1730.7,1124.8 1732.9,1128.2 1734.8,1129.9C1736.6,1131.7 1739.6,1132.4 1741.7,1132.0C1743.7,1131.6 1746.5,1129.1 1748.5,1127.2C1750.6,1125.2 1753.6,1122.0 1755.4,1118.9C1757.3,1115.8 1759.5,1110.4 1761.0,1106.5C1762.4,1102.6 1764.1,1096.6 1765.1,1092.7C1766.1,1088.8 1767.0,1082.4 1767.8,1080.3C1768.7,1078.2 1769.6,1077.9 1770.6,1078.9C1771.6,1080.0 1773.5,1084.3 1774.7,1087.2C1776.0,1090.1 1777.6,1096.6 1778.9,1098.2C1780.1,1099.9 1781.8,1099.9 1783.0,1098.2C1784.2,1096.6 1786.1,1093.2 1787.1,1087.2C1788.2,1081.2 1789.1,1067.8 1789.9,1058.2C1790.7,1048.7 1792.0,1031.0 1792.7,1023.8C1793.3,1016.5 1793.7,1022.6 1794.0,1010.0C1794.4,997.4 1794.6,962.5 1795.0,940.0C1795.4,917.5 1796.1,884.0 1796.5,860.0C1796.9,836.0 1797.0,801.0 1797.5,780.0C1798.0,759.0 1799.0,732.8 1799.5,720.0C1800.0,707.2 1800.6,699.8 1801.0,695.0C1801.4,690.2 1801.6,688.0 1802.0,688.0C1802.4,688.0 1803.0,690.2 1803.5,695.0C1804.0,699.8 1805.0,707.2 1805.5,720.0C1806.0,732.8 1806.3,759.0 1807.0,780.0C1807.7,801.0 1809.3,836.0 1810.0,860.0C1810.7,884.0 1811.0,917.5 1811.5,940.0C1812.0,962.5 1812.6,995.4 1813.3,1010.0C1814.0,1024.6 1815.3,1029.3 1816.1,1037.6C1816.9,1045.8 1818.0,1056.9 1818.8,1065.1C1819.7,1073.4 1820.6,1085.3 1821.6,1092.7C1822.6,1100.2 1824.3,1110.0 1825.7,1114.8C1827.2,1119.5 1829.6,1123.0 1831.3,1124.4C1832.9,1125.9 1835.1,1125.4 1836.8,1124.4C1838.4,1123.4 1841.0,1121.2 1842.3,1117.5C1843.5,1113.8 1844.2,1106.4 1845.0,1099.6C1845.9,1092.8 1847.0,1077.8 1847.8,1072.0C1848.6,1066.2 1849.6,1061.6 1850.6,1061.0C1851.5,1060.4 1853.0,1064.2 1854.0,1067.9C1855.0,1071.6 1856.3,1079.6 1857.4,1085.8C1858.6,1092.0 1860.3,1102.8 1861.6,1109.2C1862.8,1115.7 1864.1,1124.0 1865.7,1128.5C1867.4,1133.1 1870.1,1137.3 1872.6,1139.6C1875.1,1141.8 1879.4,1142.8 1882.3,1143.7C1885.2,1144.6 1888.8,1145.2 1891.9,1145.8C1895.0,1146.4 1899.8,1147.8 1902.9,1147.8C1906.0,1147.8 1909.9,1145.8 1912.6,1145.8C1915.3,1145.8 1918.4,1147.9 1920.9,1147.8C1923.3,1147.7 1926.0,1145.1 1929.1,1145.1C1932.2,1145.1 1937.6,1147.7 1941.5,1147.8C1945.5,1147.9 1953.2,1146.1 1955.3,1145.8"/>
  <g fill="#000" filter="url(#b3)">
    <path d="M1803.6,466 L1798.2,531 L1797.8,562 L1797.2,600 L1801.5,600 L1804.6,562 L1806.4,531 L1805.4,490 Z" opacity="0.8"/>
    <path d="M1802.3,685 L1797.6,740 L1796.6,800 L1796.0,846 L1800.5,846 L1803.4,800 L1807.0,750 L1804.6,710 Z" opacity="0.8"/>
    <path d="M1807.5,209 L1805.2,262 L1809.8,262 Z" opacity="0.7"/>
  </g>
  <!-- peak assignment marks -->
  <g stroke="#333" stroke-width="2.6" fill="none" filter="url(#b3)">
    <polyline points="1485,1109 1485,1089.5 1528.5,1089.5 1528.5,1109" stroke="#333" stroke-width="4.2"/>
    <polyline points="1455.8,1126 1455.8,1092 1472.3,1124.5" stroke="#1a1a1a" stroke-width="3"/>
  </g>
  <g class="serif" font-size="31.5" filter="url(#b4)" style="fill:#1c1c1c"><text transform="translate(1330,1071) scale(0.93,1)" text-anchor="middle">13</text><text transform="translate(1388,1027.5) scale(0.93,1)" text-anchor="middle">12</text><text transform="translate(1454.8,1087.5) scale(0.93,1)" text-anchor="middle">11</text><text transform="translate(1509.5,1074.5) scale(0.93,1)" text-anchor="middle">10</text><text transform="translate(1552.3,1093.2) scale(0.93,1)" text-anchor="middle">9</text><text transform="translate(1579.3,1074.8) scale(0.93,1)" text-anchor="middle">8</text><text transform="translate(1609,1100.8) scale(0.93,1)" text-anchor="middle">7</text><text transform="translate(1634,1115.5) scale(0.93,1)" text-anchor="middle">6</text><text transform="translate(1688,1090.5) scale(0.93,1)" text-anchor="middle">5</text><text transform="translate(1718,1061.5) scale(0.93,1)" text-anchor="middle">4</text><text transform="translate(1768.5,1068.5) scale(0.93,1)" text-anchor="middle">3</text><text transform="translate(1804.4,1035.5) scale(0.93,1)" text-anchor="middle">2</text><text transform="translate(1850.5,1048.5) scale(0.93,1)" text-anchor="middle">1</text></g>
  <!-- axis -->
  <g filter="url(#b3)">
    <line x1="1011" y1="1163" x2="1958" y2="1163" stroke="#d8d8d8" stroke-width="2"/>
    <g stroke="#111" stroke-width="3.8" fill="none">
      <line x1="1010.5" y1="1165.5" x2="1958.2" y2="1165.5"/>
      <line x1="1012.0" y1="1165" x2="1012.0" y2="1181"/><line x1="1130.1" y1="1165" x2="1130.1" y2="1181"/><line x1="1248.2" y1="1165" x2="1248.2" y2="1181"/><line x1="1366.2" y1="1165" x2="1366.2" y2="1181"/><line x1="1484.3" y1="1165" x2="1484.3" y2="1181"/><line x1="1602.4" y1="1165" x2="1602.4" y2="1181"/><line x1="1720.5" y1="1165" x2="1720.5" y2="1181"/><line x1="1838.6" y1="1165" x2="1838.6" y2="1181"/><line x1="1956.6" y1="1165" x2="1956.6" y2="1181"/>
    </g>
    <g class="serif" font-size="42.5" style="fill:#111" filter="url(#b4)"><text transform="translate(1014.2,1225.8) scale(0.88,1)" text-anchor="middle">8</text><text transform="translate(1131.4,1225.8) scale(0.88,1)" text-anchor="middle">7</text><text transform="translate(1248.5,1225.8) scale(0.88,1)" text-anchor="middle">6</text><text transform="translate(1369.7,1225.8) scale(0.88,1)" text-anchor="middle">5</text><text transform="translate(1488.3,1225.8) scale(0.88,1)" text-anchor="middle">4</text><text transform="translate(1606.2,1225.8) scale(0.88,1)" text-anchor="middle">3</text><text transform="translate(1724.4,1225.8) scale(0.88,1)" text-anchor="middle">2</text><text transform="translate(1842.7,1225.8) scale(0.88,1)" text-anchor="middle">1</text><text transform="translate(1957.6,1225.8) scale(0.88,1)" text-anchor="middle">0</text></g>
    <text class="serif" x="1467" y="1272" font-size="40" font-style="italic" style="fill:#333">δ<tspan x="1487" y="1282" font-size="22" font-style="normal" style="fill:#444">H</tspan></text>
  </g>
</g>

<!-- ================= annotations ================= -->
<g class="sans">
  <text x="1924" y="94.7" font-size="62" textLength="152" lengthAdjust="spacingAndGlyphs">static</text>
  <text x="1958" y="558.8" font-size="65.5" textLength="400" lengthAdjust="spacingAndGlyphs">MAS = 15 kHz</text>
  <text x="900" y="627" font-size="65" textLength="165" lengthAdjust="spacingAndGlyphs">4 min</text>
  <text x="899" y="869.6" font-size="65" textLength="196" lengthAdjust="spacingAndGlyphs">17 min</text>
  <text x="899" y="1090.8" font-size="65" textLength="196" lengthAdjust="spacingAndGlyphs">34 min</text>
  <text y="1426.2" font-size="89.5" x="427.5 455 500.5" dy="-4 4 -4">(a)</text>
  <text y="1426.2" font-size="89.5" x="1498.5 1529.5 1580" dy="-4 4 -4">(b)</text>
</g>
</svg>
</body>
</html>
